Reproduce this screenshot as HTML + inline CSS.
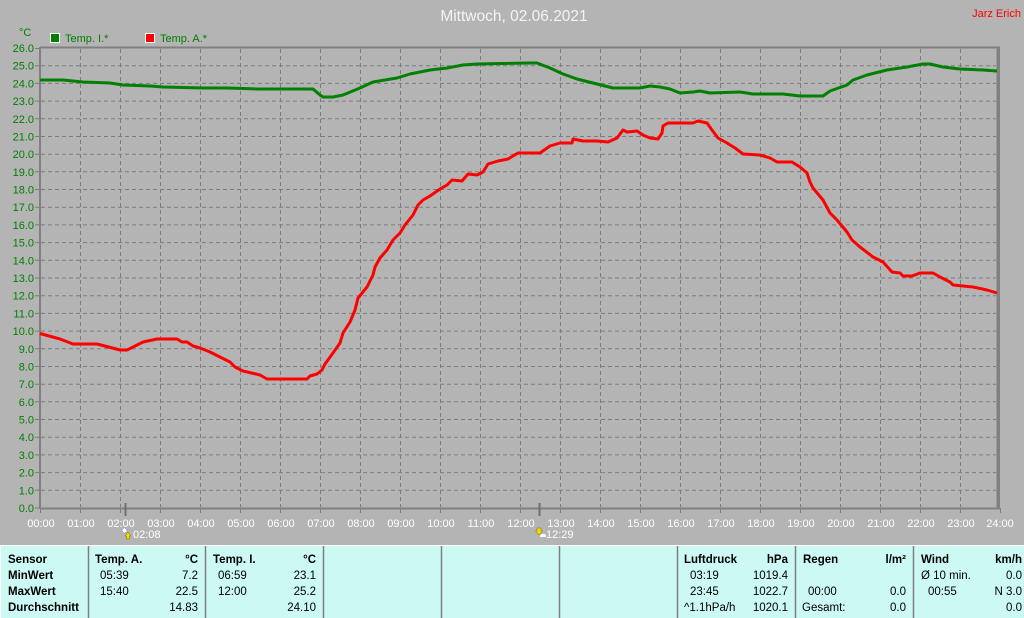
<!DOCTYPE html>
<html>
<head>
<meta charset="utf-8">
<style>
html,body{margin:0;padding:0;background:#b4b4b4;}
body{width:1024px;height:618px;overflow:hidden;position:relative;font-family:"Liberation Sans",sans-serif;}
svg{position:absolute;left:0;top:0;}
.t{position:absolute;font-size:11.5px;color:#000;white-space:nowrap;line-height:16px;}
.b{font-weight:bold;}
.r{text-align:right;}
</style>
</head>
<body>
<svg width="1024" height="618" viewBox="0 0 1024 618" xmlns="http://www.w3.org/2000/svg" font-family="Liberation Sans, sans-serif">
  <rect x="0" y="0" width="1024" height="618" fill="#b4b4b4"/>
  <!-- title -->
  <text x="514" y="21" font-size="15.5" fill="#f4f4f4" text-anchor="middle">Mittwoch, 02.06.2021</text>
  <text x="1021" y="17" font-size="11" fill="#ff0000" text-anchor="end">Jarz Erich</text>
  <!-- unit -->
  <text x="19" y="36" font-size="11" fill="#008000">°C</text>
  <!-- legend -->
  <rect x="50.5" y="33.5" width="9" height="9" fill="#008000" stroke="#ffffff" stroke-width="1"/>
  <text x="65" y="42" font-size="11" fill="#008000">Temp. I.*</text>
  <rect x="145.5" y="33.5" width="9" height="9" fill="#ff0000" stroke="#ffffff" stroke-width="1"/>
  <text x="160" y="42" font-size="11" fill="#008000">Temp. A.*</text>

  <!-- grid -->
  <g stroke="#7c7c7c" stroke-width="1" stroke-dasharray="4,3" fill="none">
    <path d="M41 65.7H997M41 83.4H997M41 101.1H997M41 118.8H997M41 136.5H997M41 154.2H997M41 171.8H997M41 189.5H997M41 207.2H997M41 224.9H997M41 242.6H997M41 260.3H997M41 278H997M41 295.7H997M41 313.4H997M41 331.1H997M41 348.8H997M41 366.5H997M41 384.2H997M41 401.8H997M41 419.5H997M41 437.2H997M41 454.9H997M41 472.6H997M41 490.3H997"/>
    <path d="M80.5 49V507M120.5 49V507M160.5 49V507M200.5 49V507M240.5 49V507M280.5 49V507M320.5 49V507M360.5 49V507M400.5 49V507M440.5 49V507M480.5 49V507M520.5 49V507M560.5 49V507M600.5 49V507M640.5 49V507M680.5 49V507M720.5 49V507M760.5 49V507M800.5 49V507M840.5 49V507M880.5 49V507M920.5 49V507M960.5 49V507"/>
  </g>
  <!-- left ticks -->
  <g stroke="#7c7c7c" stroke-width="1">
    <path d="M35 48.5H40M35 65.7H40M35 83.4H40M35 101.1H40M35 118.8H40M35 136.5H40M35 154.2H40M35 171.8H40M35 189.5H40M35 207.2H40M35 224.9H40M35 242.6H40M35 260.3H40M35 278H40M35 295.7H40M35 313.4H40M35 331.1H40M35 348.8H40M35 366.5H40M35 384.2H40M35 401.8H40M35 419.5H40M35 437.2H40M35 454.9H40M35 472.6H40M35 490.3H40M35 508H40"/>
    <path d="M40.5 508V513M80.5 508V513M120.5 508V513M160.5 508V513M200.5 508V513M240.5 508V513M280.5 508V513M320.5 508V513M360.5 508V513M400.5 508V513M440.5 508V513M480.5 508V513M520.5 508V513M560.5 508V513M600.5 508V513M640.5 508V513M680.5 508V513M720.5 508V513M760.5 508V513M800.5 508V513M840.5 508V513M880.5 508V513M920.5 508V513M960.5 508V513M1000.5 508V513"/>
  </g>
  <!-- frame -->
  <g stroke="#808080" fill="none">
    <path d="M40 47.5H1000" stroke-width="2"/>
    <path d="M40 508.5H1000" stroke-width="2"/>
    <path d="M40 47V509" stroke-width="2"/>
    <path d="M998.5 47V509" stroke-width="3"/>
  </g>
  <path d="M996.5 49V507" stroke="#9a9a9a" stroke-width="1"/>
  <!-- sun/moon markers -->
  <path d="M125.5 503V516" stroke="#707070" stroke-width="2"/>
  <path d="M539.5 503V516" stroke="#707070" stroke-width="2"/>

  <!-- y labels -->
  <g font-size="11" fill="#008000" text-anchor="end">
    <text x="34" y="52">26.0</text>
    <text x="34" y="69.7">25.0</text>
    <text x="34" y="87.4">24.0</text>
    <text x="34" y="105.1">23.0</text>
    <text x="34" y="122.8">22.0</text>
    <text x="34" y="140.5">21.0</text>
    <text x="34" y="158.2">20.0</text>
    <text x="34" y="175.8">19.0</text>
    <text x="34" y="193.5">18.0</text>
    <text x="34" y="211.2">17.0</text>
    <text x="34" y="228.9">16.0</text>
    <text x="34" y="246.6">15.0</text>
    <text x="34" y="264.3">14.0</text>
    <text x="34" y="282">13.0</text>
    <text x="34" y="299.7">12.0</text>
    <text x="34" y="317.4">11.0</text>
    <text x="34" y="335.1">10.0</text>
    <text x="34" y="352.8">9.0</text>
    <text x="34" y="370.5">8.0</text>
    <text x="34" y="388.2">7.0</text>
    <text x="34" y="405.8">6.0</text>
    <text x="34" y="423.5">5.0</text>
    <text x="34" y="441.2">4.0</text>
    <text x="34" y="458.9">3.0</text>
    <text x="34" y="476.6">2.0</text>
    <text x="34" y="494.3">1.0</text>
    <text x="34" y="512">0.0</text>
  </g>
  <!-- x labels -->
  <g font-size="11" fill="#ffffff" text-anchor="middle">
    <text x="41" y="527">00:00</text><text x="81" y="527">01:00</text><text x="121" y="527">02:00</text>
    <text x="161" y="527">03:00</text><text x="201" y="527">04:00</text><text x="241" y="527">05:00</text>
    <text x="281" y="527">06:00</text><text x="321" y="527">07:00</text><text x="361" y="527">08:00</text>
    <text x="401" y="527">09:00</text><text x="441" y="527">10:00</text><text x="481" y="527">11:00</text>
    <text x="521" y="527">12:00</text><text x="561" y="527">13:00</text><text x="601" y="527">14:00</text>
    <text x="641" y="527">15:00</text><text x="681" y="527">16:00</text><text x="721" y="527">17:00</text>
    <text x="761" y="527">18:00</text><text x="801" y="527">19:00</text><text x="841" y="527">20:00</text>
    <text x="881" y="527">21:00</text><text x="921" y="527">22:00</text><text x="961" y="527">23:00</text>
    <text x="1000" y="527">24:00</text>
  </g>
  <!-- marker icons -->
  <circle cx="124.5" cy="530.5" r="2.5" fill="#ffffff" stroke="#6a6ae0" stroke-width="0.8" stroke-dasharray="1,1"/>
  <path d="M128 532L131 536H129.5V539H126.5V536H125Z" fill="#f0e000" stroke="#806000" stroke-width="0.5"/>
  <text x="133" y="538" font-size="11" fill="#ffffff">02:08</text>
  <path d="M537 528H541V531H542.5L539 535L535.5 531H537Z" fill="#f0e000" stroke="#806000" stroke-width="0.5"/>
  <path d="M540 537H546V535.5Q545 533 543 534Q541 533.5 540 536Z" fill="#ffffff"/>
  <text x="546" y="538" font-size="11" fill="#ffffff">12:29</text>

  <!-- green series (Temp. I.) -->
  <polyline fill="none" stroke="#008000" stroke-width="3" stroke-linejoin="round" points="40,80 63,80 83,82 110,83 123,85 150,86 163,87 203,88 227,88 257,89 313,89 320,95 323,97 333,97 343,95 360,88 373,82 397,78 410,74 430,70 447,68 463,65 477,64 530,63 537,63 550,68 563,74 577,79 597,84 613,88 640,88 650,86 660,87 670,89 680,93 693,92 700,91 710,93 740,92 753,94 783,94 800,96 823,96 830,91 847,85 853,80 867,75 887,70 907,67 923,64 930,64 943,67 960,69 983,70 997,71"/>
  <!-- red series (Temp. A.) -->
  <polyline fill="none" stroke="#ff0000" stroke-width="3" stroke-linejoin="round" points="40,333.5 60,339 73,344 97,344 120,350 127,350 143,342 157,339 177,339 182,342 187,342 193,346 200,348 210,352 220,357 230,362 235,367 243,371 260,375 267,379 307,379 310,376 317,374 322,370 325,364 333,353 340,343 343,333 350,322 355,310 358,298 367,287 373,275 375,267 380,258 387,250 393,240 400,233 405,225 413,215 418,205 423,200 430,196 440,189 447,185 452,180 462,181 468,174 477,175 483,172 488,164 498,161 508,159 518,153 540,153 550,146 560,143 572,143 573,139 583,141 597,141 608,142 617,138 623,130 627,132 637,131 643,135 650,138 658,139 662,133 663,126 668,123 680,123 693,123 698,121 707,123 712,130 718,138 727,143 735,148 743,154 760,155 770,158 777,162 792,162 800,167 807,173 810,182 813,188 823,200 830,213 837,220 847,232 852,240 860,247 873,257 883,262 892,272 900,273 903,276 912,276 920,273 933,273 940,277 950,282 953,285 963,286 973,287 987,290 997,293"/>

  <!-- table -->
  <rect x="0" y="545" width="1024" height="73" fill="#ccf9f4"/>
  <path d="M0 545.5H1024" stroke="#ffffff" stroke-width="1"/>
  <path d="M0.5 545V618" stroke="#ffffff" stroke-width="1"/>
  <g stroke="#808080" stroke-width="1.5">
    <path d="M88.5 546V618M205.5 546V618M323.5 546V618M441.5 546V618M559.5 546V618M677.5 546V618M795.5 546V618M913.5 546V618"/>
  </g>
</svg>

<!-- table text -->
<div class="t b" style="left:8px;top:552px;">Sensor</div>
<div class="t b" style="left:8px;top:568px;">MinWert</div>
<div class="t b" style="left:8px;top:584px;">MaxWert</div>
<div class="t b" style="left:8px;top:600px;">Durchschnitt</div>

<div class="t b" style="left:95px;top:552px;">Temp. A.</div>
<div class="t b r" style="left:150px;width:48px;top:552px;">°C</div>
<div class="t" style="left:100px;top:568px;">05:39</div>
<div class="t r" style="left:150px;width:48px;top:568px;">7.2</div>
<div class="t" style="left:100px;top:584px;">15:40</div>
<div class="t r" style="left:150px;width:48px;top:584px;">22.5</div>
<div class="t r" style="left:150px;width:48px;top:600px;">14.83</div>

<div class="t b" style="left:213px;top:552px;">Temp. I.</div>
<div class="t b r" style="left:268px;width:48px;top:552px;">°C</div>
<div class="t" style="left:218px;top:568px;">06:59</div>
<div class="t r" style="left:268px;width:48px;top:568px;">23.1</div>
<div class="t" style="left:218px;top:584px;">12:00</div>
<div class="t r" style="left:268px;width:48px;top:584px;">25.2</div>
<div class="t r" style="left:268px;width:48px;top:600px;">24.10</div>

<div class="t b" style="left:684px;top:552px;">Luftdruck</div>
<div class="t b r" style="left:740px;width:48px;top:552px;">hPa</div>
<div class="t" style="left:690px;top:568px;">03:19</div>
<div class="t r" style="left:740px;width:48px;top:568px;">1019.4</div>
<div class="t" style="left:690px;top:584px;">23:45</div>
<div class="t r" style="left:740px;width:48px;top:584px;">1022.7</div>
<div class="t" style="left:684px;top:600px;">^1.1hPa/h</div>
<div class="t r" style="left:740px;width:48px;top:600px;">1020.1</div>

<div class="t b" style="left:803px;top:552px;">Regen</div>
<div class="t b r" style="left:858px;width:48px;top:552px;">l/m²</div>
<div class="t" style="left:808px;top:584px;">00:00</div>
<div class="t r" style="left:858px;width:48px;top:584px;">0.0</div>
<div class="t" style="left:802px;top:600px;">Gesamt:</div>
<div class="t r" style="left:858px;width:48px;top:600px;">0.0</div>

<div class="t b" style="left:921px;top:552px;">Wind</div>
<div class="t b r" style="left:974px;width:48px;top:552px;">km/h</div>
<div class="t" style="left:921px;top:568px;">Ø 10 min.</div>
<div class="t r" style="left:974px;width:48px;top:568px;">0.0</div>
<div class="t" style="left:928px;top:584px;">00:55</div>
<div class="t r" style="left:974px;width:48px;top:584px;">N 3.0</div>
<div class="t r" style="left:974px;width:48px;top:600px;">0.0</div>
</body>
</html>
